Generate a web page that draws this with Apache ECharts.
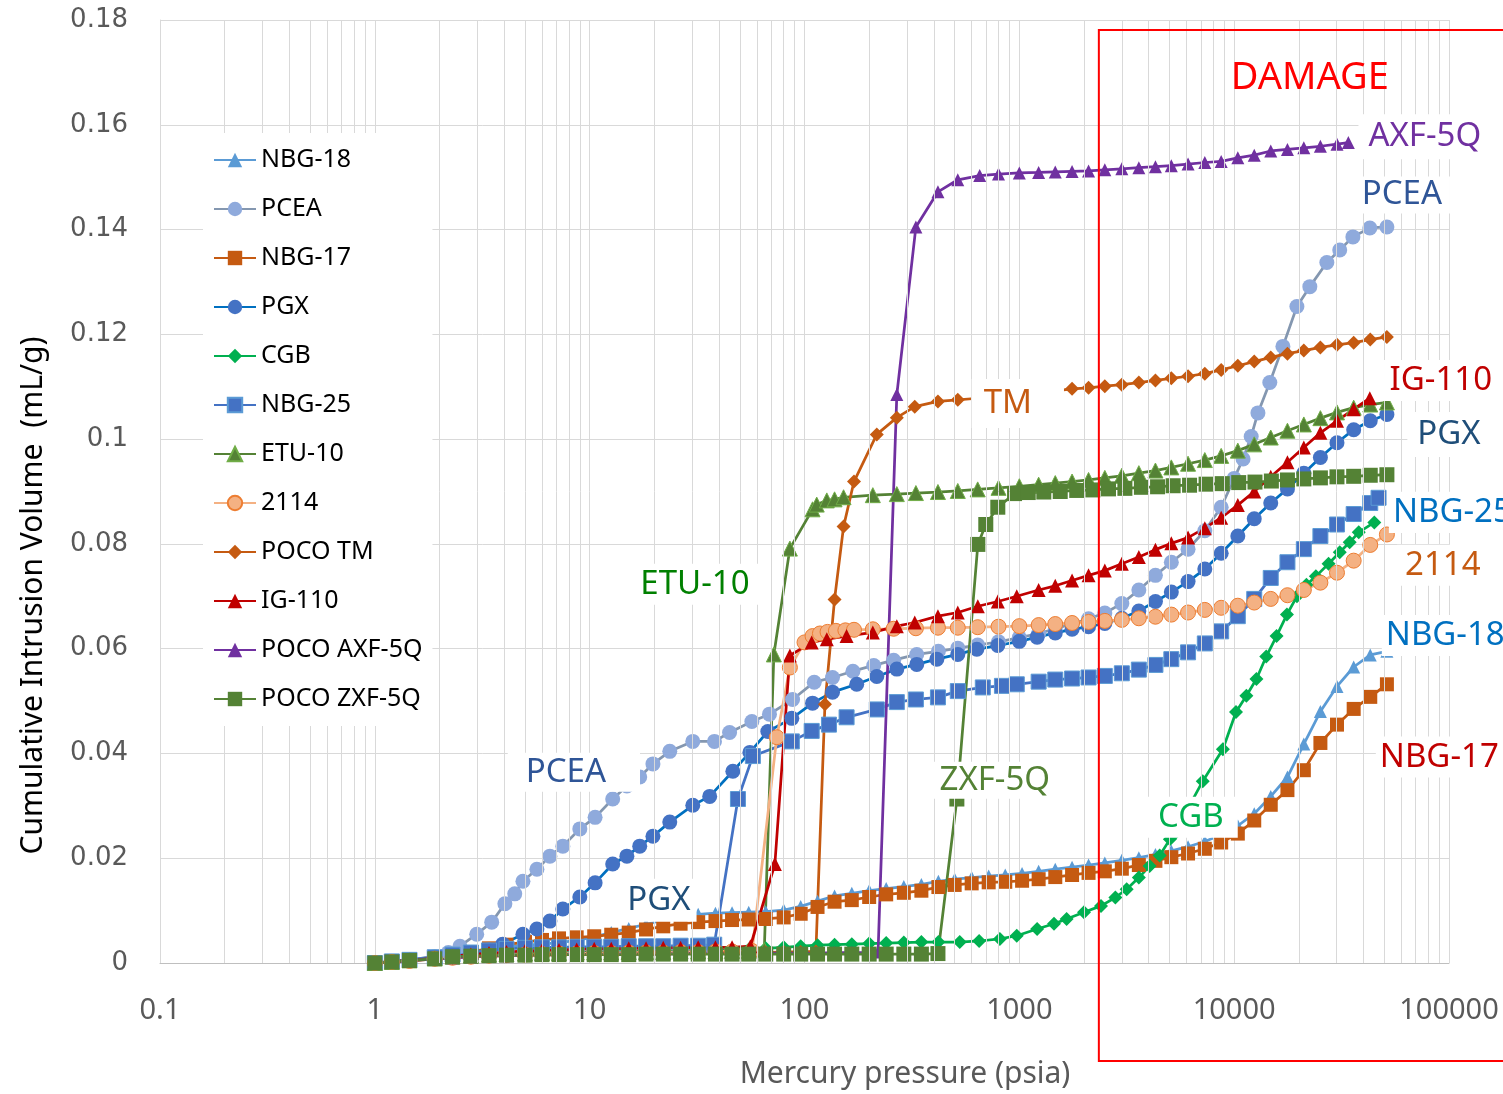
<!DOCTYPE html>
<html><head><meta charset="utf-8">
<script src="https://cdn.jsdelivr.net/npm/echarts@6/dist/echarts.min.js"></script>
<style>html,body{margin:0;padding:0;background:#fff}#c{width:1503px;height:1094px}</style>
</head><body><div id="c"></div>
<script>
// ---------- DATA: [pressure (psia), cumulative intrusion (mL/g)] ----------
const seriesNames = ['NBG-18','PCEA','NBG-17','PGX','CGB','NBG-25','ETU-10','2114','POCO TM','IG-110','POCO AXF-5Q','POCO ZXF-5Q'];
const xTickLabels = ['0.1','1','10','100','1000','10000','100000'];

const nbg18 = [[1,0],[1.2,0.0003],[1.45,0.0006],[1.9,0.0012],[2.3,0.0017],[2.8,0.0022],[3.4,0.0027],[4.1,0.0031],[5,0.0034],[6,0.0036],[7.2,0.0039],[8.7,0.0043],[10.5,0.005],[12.6,0.0058],[15.2,0.0066],[18.3,0.0074],[22,0.0082],[26.5,0.0089],[32,0.0093],[38.5,0.0095],[46,0.0096],[55,0.0097],[66,0.0098],[80,0.0101],[96,0.0108],[115,0.0118],[138,0.0128],[166,0.0133],[200,0.0138],[240,0.0142],[290,0.0146],[350,0.015],[420,0.0156],[500,0.016],[600,0.0163],[720,0.0166],[860,0.0168],[1030,0.0171],[1230,0.0175],[1470,0.0179],[1760,0.0183],[2100,0.0187],[2500,0.0191],[3000,0.0196],[3600,0.0201],[4300,0.0207],[5100,0.0214],[6100,0.0222],[7300,0.0232],[8700,0.0245],[10400,0.0262],[12400,0.0285],[14800,0.0318],[17700,0.0355],[21100,0.0418],[25200,0.048],[30100,0.0528],[36000,0.0565],[43000,0.0588],[51400,0.0595]];

const pcea = [[1,0],[1.2,0.0003],[1.45,0.0006],[1.9,0.0012],[2.2,0.002],[2.49,0.0032],[2.98,0.0055],[3.5,0.0078],[4.03,0.0113],[4.48,0.0132],[4.89,0.0156],[5.68,0.0179],[6.53,0.0204],[7.5,0.0223],[9.0,0.0256],[10.6,0.0278],[12.8,0.0313],[14.9,0.0338],[17.1,0.0355],[19.7,0.038],[23.6,0.0404],[30.2,0.0423],[38.1,0.0423],[44.8,0.044],[56.9,0.0461],[68.7,0.0475],[88,0.0503],[111,0.0536],[135,0.0545],[168,0.0557],[210,0.0568],[260,0.0578],[333,0.0589],[420,0.0595],[517,0.0601],[640,0.0607],[800,0.0613],[1000,0.0621],[1230,0.0629],[1470,0.0638],[1760,0.0647],[2100,0.0657],[2500,0.0668],[3000,0.0686],[3600,0.0712],[4300,0.074],[5100,0.0765],[6100,0.079],[7300,0.0825],[8700,0.087],[10000,0.0925],[11000,0.0962],[12000,0.1005],[12900,0.105],[14650,0.1108],[16860,0.1177],[19590,0.1253],[22500,0.1291],[27000,0.1337],[31000,0.1361],[35700,0.1386],[42800,0.1403],[51400,0.1405]];

const nbg17 = [[1,0],[1.2,0.0002],[1.45,0.0005],[1.9,0.001],[2.3,0.0015],[2.8,0.002],[3.4,0.0028],[4.1,0.0035],[5,0.004],[6,0.0044],[7.2,0.0047],[8.7,0.0049],[10.5,0.0051],[12.6,0.0054],[15.2,0.0058],[18.3,0.0064],[22,0.007],[26.5,0.0075],[32,0.0078],[38.5,0.008],[46,0.0082],[55,0.0083],[66,0.0084],[80,0.0087],[96,0.0094],[115,0.0107],[138,0.0117],[166,0.012],[200,0.0126],[240,0.0131],[290,0.0134],[350,0.0138],[420,0.0145],[500,0.0149],[600,0.0152],[720,0.0154],[860,0.0155],[1030,0.0157],[1230,0.016],[1470,0.0164],[1760,0.0168],[2100,0.0172],[2500,0.0175],[3000,0.018],[3600,0.0187],[4300,0.0195],[5100,0.0202],[6100,0.0209],[7300,0.0218],[8700,0.023],[10400,0.0247],[12400,0.0272],[14800,0.0302],[17700,0.033],[21100,0.0368],[25200,0.042],[30100,0.0455],[36000,0.0485],[43000,0.0508],[51400,0.0532]];

const pgx = [[1,0],[1.2,0.0002],[1.45,0.0004],[1.9,0.0008],[2.3,0.0012],[2.8,0.0017],[3.4,0.0025],[3.94,0.0036],[4.89,0.0055],[5.68,0.0065],[6.53,0.008],[7.5,0.0103],[9.0,0.0126],[10.6,0.0153],[12.8,0.0189],[14.9,0.0204],[17.1,0.0223],[19.7,0.0242],[23.6,0.0269],[30.2,0.0301],[36.2,0.0318],[46.4,0.0366],[55.7,0.0402],[67.5,0.0442],[87.3,0.0467],[109,0.0496],[135,0.0517],[175,0.0532],[217,0.0547],[269,0.0561],[333,0.057],[413,0.058],[517,0.0589],[634,0.0599],[794,0.0606],[1000,0.0614],[1210,0.0622],[1470,0.063],[1760,0.0637],[2100,0.0642],[2500,0.0648],[3000,0.0658],[3600,0.0672],[4300,0.069],[5100,0.0708],[6100,0.0728],[7300,0.0752],[8700,0.0782],[10400,0.0815],[12400,0.0848],[14800,0.0878],[17700,0.0905],[21100,0.0935],[25200,0.0965],[30100,0.0993],[36000,0.1018],[43000,0.1035],[51400,0.1047]];

const cgb = [[1,0],[1.2,0.0002],[1.45,0.0005],[1.9,0.0009],[2.3,0.0012],[2.8,0.0014],[3.4,0.0016],[4.1,0.0017],[5,0.0018],[6,0.0019],[7.2,0.002],[8.7,0.002],[10.5,0.0021],[12.6,0.0021],[15.2,0.0022],[18.3,0.0022],[22,0.0023],[26.5,0.0023],[32,0.0024],[38.5,0.0024],[46,0.0025],[55,0.0026],[66,0.0028],[80,0.003],[96,0.0032],[115,0.0034],[138,0.0035],[166,0.0036],[200,0.0037],[240,0.0038],[290,0.0039],[350,0.004],[420,0.004],[528,0.004],[650,0.0042],[812,0.0046],[973,0.0052],[1210,0.0065],[1450,0.0075],[1660,0.0084],[2000,0.0097],[2400,0.0109],[2800,0.0125],[3160,0.0141],[3600,0.0163],[4040,0.0185],[4500,0.0205],[5020,0.0236],[5330,0.0248],[6000,0.029],[7140,0.0347],[8860,0.0408],[10200,0.0479],[11400,0.051],[12700,0.0542],[14100,0.0585],[15750,0.0624],[17600,0.0665],[19600,0.07],[21700,0.0722],[24000,0.0738],[27500,0.0762],[31000,0.0784],[34500,0.0803],[38000,0.0822],[44900,0.0841]];

const nbg25 = [[1,0],[1.2,0.0003],[1.45,0.0006],[1.9,0.0011],[2.3,0.0016],[2.8,0.002],[3.4,0.0024],[4.1,0.0027],[5,0.0029],[6,0.003],[7.2,0.003],[8.7,0.0031],[10.5,0.0031],[12.6,0.0031],[15.2,0.0032],[18.3,0.0032],[22,0.0032],[26.5,0.0033],[32,0.0033],[38,0.0035],[49,0.0313],[57.5,0.0395],[87.3,0.0423],[108,0.0443],[130,0.0455],[157,0.0469],[217,0.0484],[269,0.0498],[330,0.0503],[418,0.0507],[517,0.0519],[676,0.0526],[830,0.0529],[973,0.0532],[1230,0.0537],[1470,0.0541],[1760,0.0543],[2100,0.0545],[2500,0.0548],[3000,0.0553],[3600,0.056],[4300,0.0569],[5100,0.058],[6100,0.0593],[7300,0.061],[8700,0.0633],[10400,0.0662],[12400,0.0695],[14800,0.0735],[17700,0.0765],[21100,0.079],[25200,0.0815],[30100,0.0837],[36000,0.0857],[43000,0.0878],[47000,0.0888]];

const etu10 = [[1,0],[1.2,0.0002],[1.45,0.0005],[1.9,0.0009],[2.3,0.0012],[2.8,0.0014],[3.4,0.0016],[4.1,0.0017],[5,0.0018],[6,0.0019],[7.2,0.0019],[8.7,0.002],[10.5,0.002],[12.6,0.002],[15.2,0.0021],[18.3,0.0021],[22,0.0021],[26.5,0.0022],[32,0.0022],[38.5,0.0022],[46,0.0023],[55,0.0023],[65,0.0025],[72,0.0589],[85.5,0.0791],[109,0.0866],[114,0.0875],[127,0.0883],[138,0.0885],[152,0.0889],[208,0.0893],[269,0.0895],[330,0.0897],[418,0.0899],[517,0.0901],[640,0.0904],[800,0.0907],[1000,0.091],[1230,0.0913],[1470,0.0916],[1760,0.0919],[2100,0.0922],[2500,0.0926],[3000,0.093],[3600,0.0935],[4300,0.094],[5100,0.0946],[6100,0.0953],[7300,0.096],[8700,0.0968],[10400,0.0978],[12400,0.099],[14800,0.1003],[17700,0.1016],[21100,0.1028],[25200,0.104],[30100,0.1051],[36000,0.106],[43000,0.1066],[51400,0.107]];

const s2114 = [[1,0],[1.2,0.0002],[1.45,0.0004],[1.9,0.0008],[2.3,0.001],[2.8,0.0012],[3.4,0.0014],[4.1,0.0015],[5,0.0016],[6,0.0017],[7.2,0.0018],[8.7,0.0018],[10.5,0.0019],[12.6,0.0019],[15.2,0.002],[18.3,0.002],[22,0.002],[26.5,0.0021],[32,0.0021],[38.5,0.0022],[46,0.0022],[57,0.0023],[74.3,0.0431],[85.5,0.0564],[100,0.0612],[109,0.0624],[118,0.0629],[128,0.0632],[140,0.0634],[155,0.0635],[170,0.0636],[208,0.0637],[260,0.0638],[330,0.0639],[418,0.064],[517,0.064],[640,0.0641],[800,0.0642],[1000,0.0643],[1230,0.0645],[1470,0.0647],[1760,0.0649],[2100,0.0651],[2500,0.0653],[3000,0.0655],[3600,0.0658],[4300,0.0661],[5100,0.0665],[6100,0.0669],[7300,0.0674],[8700,0.0678],[10400,0.0682],[12400,0.0688],[14800,0.0695],[17700,0.0702],[21100,0.0712],[25200,0.0726],[30100,0.0745],[36000,0.0768],[43000,0.0798],[51400,0.0818]];

const pocoTM = [[1,0],[1.2,0.0002],[1.45,0.0004],[1.9,0.0008],[2.3,0.001],[2.8,0.0012],[3.4,0.0013],[4.1,0.0014],[5,0.0015],[6,0.0015],[7.2,0.0016],[8.7,0.0016],[10.5,0.0017],[12.6,0.0017],[15.2,0.0017],[18.3,0.0018],[22,0.0018],[26.5,0.0018],[32,0.0019],[38.5,0.0019],[46,0.002],[55,0.002],[66,0.002],[80,0.0021],[96,0.0021],[113,0.0022],[124.5,0.0494],[138,0.0694],[152,0.0833],[170,0.0919],[217,0.1009],[269,0.1041],[326,0.1062],[418,0.1072],[517,0.1075],[640,0.1078],[800,0.1081],[1000,0.1085],[1230,0.1089],[1470,0.1092],[1760,0.1096],[2100,0.1098],[2500,0.1101],[3000,0.1104],[3600,0.1108],[4300,0.1112],[5100,0.1116],[6100,0.112],[7300,0.1125],[8700,0.1132],[10400,0.114],[12400,0.1148],[14800,0.1156],[17700,0.1163],[21100,0.1169],[25200,0.1175],[30100,0.118],[36000,0.1184],[43000,0.119],[51400,0.1195]];

const ig110 = [[1,0],[1.2,0.0002],[1.45,0.0005],[1.9,0.0009],[2.3,0.0013],[2.8,0.0016],[3.4,0.0019],[4.1,0.0021],[5,0.0023],[6,0.0024],[7.2,0.0025],[8.7,0.0026],[10.5,0.0027],[12.6,0.0027],[15.2,0.0028],[18.3,0.0028],[22,0.0029],[26.5,0.0029],[32,0.003],[38.5,0.003],[46,0.003],[56,0.0032],[72.8,0.0189],[85.5,0.0587],[108,0.0612],[127,0.0618],[157,0.0624],[208,0.0631],[269,0.0643],[326,0.065],[418,0.0662],[517,0.0669],[641,0.0681],[794,0.069],[973,0.07],[1230,0.0712],[1470,0.072],[1760,0.073],[2100,0.074],[2500,0.0749],[3000,0.0762],[3600,0.0775],[4300,0.0789],[5100,0.0801],[6100,0.0812],[7300,0.083],[8700,0.085],[10400,0.0874],[12400,0.09],[14800,0.0928],[17700,0.0956],[21100,0.0984],[25200,0.1012],[30100,0.1035],[36000,0.1057],[42800,0.1078]];

const pocoAXF = [[1,0],[1.2,0.0002],[1.45,0.0005],[1.9,0.0008],[2.3,0.001],[2.8,0.0012],[3.4,0.0013],[4.1,0.0014],[5,0.0015],[6,0.0015],[7.2,0.0016],[8.7,0.0016],[10.5,0.0016],[12.6,0.0017],[15.2,0.0017],[18.3,0.0017],[22,0.0017],[26.5,0.0018],[32,0.0018],[38.5,0.0018],[46,0.0018],[55,0.0018],[66,0.0019],[80,0.0019],[96,0.0019],[115,0.0019],[138,0.002],[166,0.002],[200,0.002],[220,0.0021],[269,0.1085],[330,0.1405],[418,0.1472],[517,0.1495],[654,0.1503],[800,0.1506],[1000,0.1508],[1230,0.1509],[1470,0.151],[1760,0.1511],[2100,0.1512],[2500,0.1514],[3000,0.1516],[3600,0.1518],[4300,0.152],[5100,0.1522],[6100,0.1525],[7300,0.1528],[8700,0.153],[10400,0.1537],[12400,0.1542],[14800,0.155],[17700,0.1553],[21100,0.1556],[25200,0.1559],[30100,0.1563],[34000,0.1566]];

const pocoZXF = [[1,0],[1.2,0.0002],[1.45,0.0005],[1.9,0.0008],[2.3,0.0012],[2.8,0.0013],[3.4,0.0014],[4.1,0.0015],[5,0.0015],[6,0.0016],[7.2,0.0016],[8.7,0.0016],[10.5,0.0016],[12.6,0.0016],[15.2,0.0016],[18.3,0.0017],[22,0.0017],[26.5,0.0017],[32,0.0017],[38.5,0.0017],[46,0.0017],[55,0.0017],[66,0.0017],[80,0.0017],[96,0.0017],[115,0.0017],[138,0.0017],[166,0.0017],[200,0.0017],[240,0.0017],[290,0.0017],[350,0.0017],[418,0.0018],[512,0.0313],[641,0.0799],[698,0.0837],[794,0.087],[950,0.0896],[1100,0.0898],[1300,0.0899],[1550,0.09],[1850,0.0902],[2200,0.0903],[2600,0.0905],[3100,0.0906],[3700,0.0908],[4400,0.0909],[5200,0.0911],[6200,0.0912],[7400,0.0914],[8800,0.0915],[10500,0.0917],[12500,0.0918],[14900,0.092],[17700,0.0922],[21100,0.0924],[25200,0.0926],[30100,0.0928],[36000,0.0929],[43000,0.0931],[51400,0.0932]];

const allData = [nbg18, pcea, nbg17, pgx, cgb, nbg25, etu10, s2114, pocoTM, ig110, pocoAXF, pocoZXF];

// ---------- STYLES ----------
const styles = [
  {sym:'triangle', size:13, fill:'#5B9BD5', line:'#5B9BD5'},
  {sym:'circle',   size:15, fill:'#8FAADC', line:'#8497B0'},
  {sym:'rect',     size:14, fill:'#C55A11', line:'#C55A11'},
  {sym:'circle',   size:15, fill:'#4472C4', line:'#0070C0'},
  {sym:'diamond',  size:14, fill:'#00B050', line:'#00B050'},
  {sym:'rect',     size:15, fill:'#4472C4', line:'#4472C4', border:'#5B9BD5'},
  {sym:'triangle', size:15, fill:'#548235', line:'#548235', border:'#70AD47'},
  {sym:'circle',   size:15, fill:'#F4B183', line:'#F4B183', border:'#ED7D31'},
  {sym:'diamond',  size:14, fill:'#C55A11', line:'#C55A11'},
  {sym:'triangle', size:14, fill:'#C00000', line:'#C00000'},
  {sym:'triangle', size:13, fill:'#7030A0', line:'#7030A0'},
  {sym:'rect',     size:15, fill:'#548235', line:'#548235'}
];

const chart = echarts.init(document.getElementById('c'), null, {renderer:'canvas'});

// minor log grid lines (2..9 in each decade)
const minorLines = [];
for (let d = -1; d <= 4; d++) for (let k = 2; k <= 9; k++) minorLines.push({xAxis: +(k * Math.pow(10, d)).toPrecision(6)});

const series = [{
  name: '__grid', type: 'line', data: [], z: 0, silent: true,
  markLine: {silent: true, symbol: 'none', animation: false,
    label: {show: false}, emphasis: {disabled: true},
    lineStyle: {color: '#D9D9D9', width: 1, type: 'solid'}, data: minorLines}
}];
seriesNames.forEach((n, i) => {
  const s = styles[i];
  series.push({
    name: n, type: 'line', data: allData[i],
    symbol: s.sym, symbolSize: s.size, showSymbol: true, showAllSymbol: true,
    lineStyle: {color: s.line, width: 2.75},
    itemStyle: {color: s.fill, borderColor: s.border || s.fill, borderWidth: s.border ? 1 : 0},
    emphasis: {disabled: true}, animation: false
  });
});

const fmtX = v => { const t = +(+v).toPrecision(6); const idx = Math.round(Math.log10(t)) + 1; return xTickLabels[idx] !== undefined ? xTickLabels[idx] : String(t); };

chart.setOption({
  animation: false,
  backgroundColor: '#fff',
  grid: {left: 160, right: 54, top: 20, bottom: 130, containLabel: false},
  legend: {
    data: seriesNames, orient: 'vertical', left: 203, top: 133, z: 20,
    padding: [14, 10, 14, 10], itemGap: 23, itemWidth: 42, itemHeight: 18,
    backgroundColor: '#fff', selectedMode: false,
    textStyle: {fontFamily: 'Noto Sans', fontSize: 25, color: '#000', lineHeight: 26}
  },
  xAxis: {
    type: 'log', logBase: 10, min: 0.1, max: 100000, splitNumber: 6,
    name: 'Mercury pressure (psia)', nameLocation: 'middle', nameGap: 96,
    nameTextStyle: {fontFamily: 'Noto Sans', fontSize: 30, color: '#595959', padding: [0, 0, 0, 201]},
    axisLine: {show: true, lineStyle: {color: '#BFBFBF', width: 1}},
    axisTick: {show: false},
    axisLabel: {formatter: fmtX, fontFamily: 'Noto Sans', fontSize: 29, color: '#595959', margin: 33},
    splitLine: {show: true, lineStyle: {color: '#D9D9D9', width: 1}},
    minorTick: {show: false}, minorSplitLine: {show: false}
  },
  yAxis: {
    type: 'value', min: 0, max: 0.18, interval: 0.02,
    name: 'Cumulative Intrusion Volume  (mL/g)', nameLocation: 'middle', nameGap: 112, nameRotate: 90,
    nameTextStyle: {fontFamily: 'Noto Sans', fontSize: 30, color: '#000', padding: [0, 208, 0, 0]},
    axisLine: {show: true, lineStyle: {color: '#D9D9D9', width: 1}},
    axisTick: {show: false},
    axisLabel: {fontFamily: 'DejaVu Sans', fontSize: 26, color: '#595959', margin: 32},
    splitLine: {show: true, lineStyle: {color: '#D9D9D9', width: 1}}
  },
  series: series
});

// ---------- annotations, positioned in data space ----------
const toPx = (p, v) => chart.convertToPixel({xAxisIndex: 0, yAxisIndex: 0}, [p, v]);
const labels = [
  {t:'DAMAGE', p:22490, v:0.1689, c:'#FF0000', fs:38, al:'center', pad:[0,0,0,0], bg:false},
  {t:'AXF-5Q', p:77200, v:0.1577, c:'#7030A0', fs:33, al:'center', pad:[6,10,6,10]},
  {t:'PCEA', p:60330, v:0.1466, c:'#2F5597', fs:33, al:'center', pad:[2,8,2,8]},
  {t:'IG-110', p:91600, v:0.1112, c:'#C00000', fs:33, al:'center', pad:[4,8,4,8]},
  {t:'PGX', p:100000, v:0.1009, c:'#1F4E79', fs:33, al:'center', pad:[6,10,6,10]},
  {t:'NBG-25', p:54800, v:0.086, c:'#0070C0', fs:33, al:'left', pad:[4,4,4,4]},
  {t:'2114', p:93600, v:0.0759, c:'#C55A11', fs:33, al:'center', pad:[4,8,4,8]},
  {t:'NBG-18', p:50800, v:0.0625, c:'#0070C0', fs:33, al:'left', pad:[4,4,4,4]},
  {t:'NBG-17', p:47650, v:0.0393, c:'#C00000', fs:33, al:'left', pad:[4,4,4,4]},
  {t:'TM', p:884, v:0.1068, c:'#C55A11', fs:33, al:'center', pad:[8,32,8,12]},
  {t:'ETU-10', p:30.9, v:0.0723, c:'#008000', fs:33, al:'center', pad:[4,18,4,12]},
  {t:'ZXF-5Q', p:769, v:0.0349, c:'#548235', fs:33, al:'center', pad:[2,20,2,15]},
  {t:'CGB', p:6290, v:0.0278, c:'#00B050', fs:33, al:'center', pad:[4,14,4,12]},
  {t:'PCEA', p:7.75, v:0.0362, c:'#2F5597', fs:33, al:'center', pad:[4,34,2,18]},
  {t:'PGX', p:21.0, v:0.0118, c:'#1F4E79', fs:33, al:'center', pad:[6,6,4,6]}
];
const graphics = labels.map(l => {
  const [x, y] = toPx(l.p, l.v);
  const pad = l.pad;
  // compensate for padding so the glyphs sit where the reference puts them
  const dx = l.al === 'center' ? (pad[1] - pad[3]) / 2 : -pad[3];
  const dy = (pad[2] - pad[0]) / 2;
  const st = {text: l.t, x: x + dx, y: y + dy, fill: l.c, font: l.fs + 'px "Noto Sans"', align: l.al, verticalAlign: 'middle'};
  if (l.bg !== false) { st.backgroundColor = '#fff'; st.padding = pad; }
  return {type: 'text', z: 100, silent: true, style: st};
});
// DAMAGE region box
const a = toPx(2345, 0.1781), b = toPx(192000, -0.0187);
graphics.push({type: 'rect', z: 101, silent: true,
  shape: {x: a[0], y: a[1], width: b[0] - a[0], height: b[1] - a[1]},
  style: {fill: 'none', stroke: '#FF0000', lineWidth: 2}});
chart.setOption({graphic: graphics});
</script>
</body></html>
